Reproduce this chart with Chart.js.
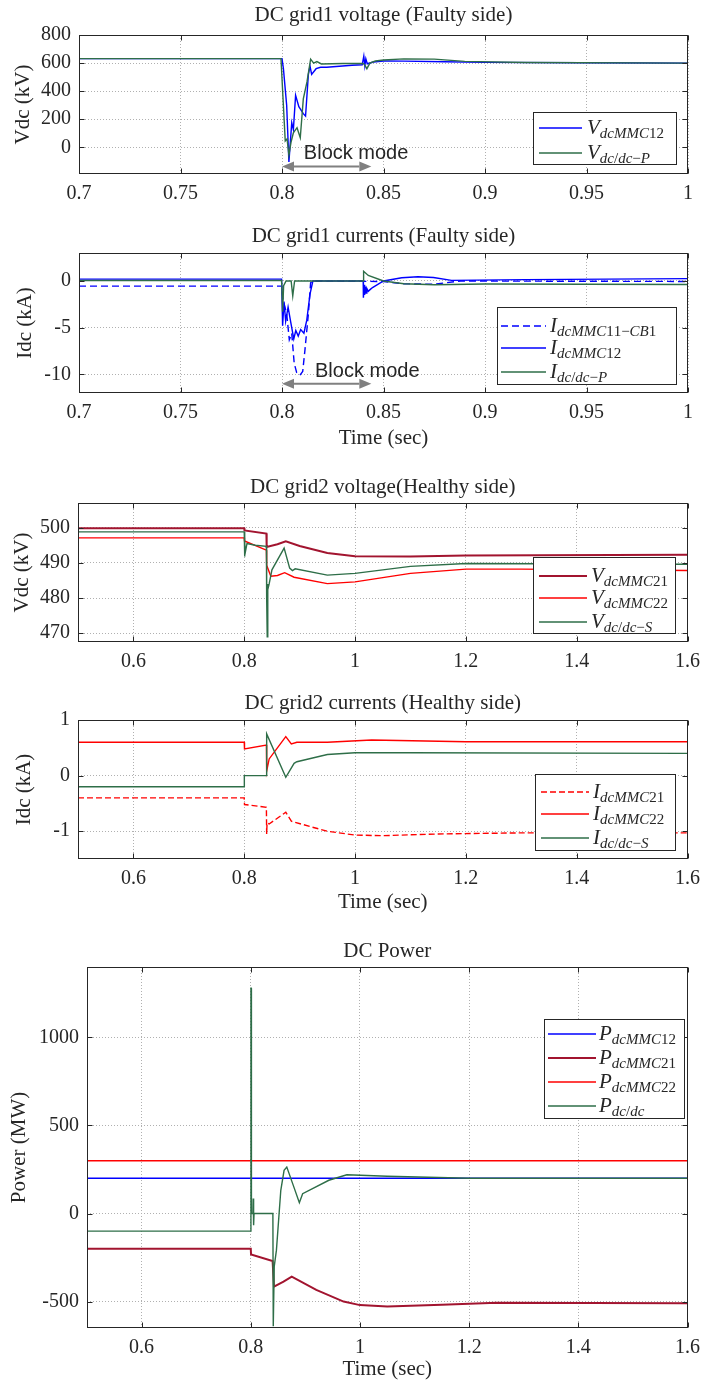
<!DOCTYPE html>
<html>
<head>
<meta charset="utf-8">
<script src="https://cdn.jsdelivr.net/npm/chart.js@4.4.0/dist/chart.umd.min.js"></script>
<style>
  body { margin: 0; background: #fff; width: 708px; height: 1382px; position: relative; overflow: hidden; }
  .panel { position: absolute; left: 0; width: 708px; }
  canvas { display: block; }
</style>
</head>
<body>
<div class="panel" style="top:0px"><canvas id="c1" width="708" height="200"></canvas></div>
<div class="panel" style="top:220px"><canvas id="c2" width="708" height="231"></canvas></div>
<div class="panel" style="top:470px"><canvas id="c3" width="708" height="198"></canvas></div>
<div class="panel" style="top:685px"><canvas id="c4" width="708" height="230"></canvas></div>
<div class="panel" style="top:930px"><canvas id="c5" width="708" height="452"></canvas></div>
<script>
// ---- data: panel 1, DC grid1 voltage (kV) ----
const xTicksA = [0.7, 0.75, 0.8, 0.85, 0.9, 0.95, 1];
const yTicks1 = [0, 200, 400, 600, 800];
const t_vMMC12 = [0.7, 0.8, 0.8007, 0.8023, 0.8034, 0.8048, 0.8056, 0.8067, 0.8083, 0.8105, 0.8116, 0.813, 0.8138, 0.8146, 0.8168, 0.819, 0.822, 0.8345, 0.8395, 0.8403, 0.8408, 0.8413, 0.842, 0.845, 0.85, 0.86, 0.88, 0.9, 0.95, 1.0];
const v_vMMC12 = [632, 632, 560, 300, -105, 176, 126, 370, 290, 240, 222, 520, 578, 520, 560, 570, 570, 585, 588, 650, 580, 630, 595, 608, 615, 614, 610, 605, 602, 600];
const t_vDCP = [0.7, 0.7995, 0.8005, 0.8016, 0.8025, 0.8034, 0.8045, 0.8056, 0.8074, 0.809, 0.8105, 0.8123, 0.8141, 0.8156, 0.8172, 0.8194, 0.83, 0.84, 0.8408, 0.8418, 0.8433, 0.846, 0.85, 0.86, 0.875, 0.89, 0.92, 1.0];
const v_vDCP = [632, 632, 350, 45, 60, -55, 40, 104, 140, 68, 345, 466, 628, 600, 611, 594, 597, 598, 585, 560, 600, 615, 622, 630, 628, 612, 604, 600];

// ---- data: panel 2, DC grid1 currents (kA) ----
const yTicks2 = [-10, -5, 0];
const t_iCB1 = [0.7, 0.7998, 0.8005, 0.8023, 0.8036, 0.8048, 0.806, 0.8072, 0.8088, 0.8102, 0.8113, 0.813, 0.8141, 0.815, 0.85, 0.86, 0.875, 0.888, 1.0];
const v_iCB1 = [-0.55, -0.55, -2.0, -3.5, -6.3, -5.6, -8.8, -9.8, -10.1, -9.7, -7.4, -3.5, -0.2, 0, -0.05, -0.3, -0.35, 0, -0.05];
const t_iMMC12 = [0.7, 0.7998, 0.8003, 0.801, 0.8018, 0.803, 0.8043, 0.8058, 0.8068, 0.808, 0.8092, 0.8108, 0.8122, 0.8138, 0.8152, 0.84, 0.8401, 0.8404, 0.8407, 0.841, 0.8414, 0.8418, 0.8425, 0.8435, 0.8446, 0.85, 0.859, 0.867, 0.8746, 0.8835, 0.92, 1.0];
const v_iMMC12 = [0.2, 0.2, -4.8, -2.2, -4.3, -2.8, -4.4, -6.2, -5.3, -5.9, -5.2, -5.6, -4.2, -1.4, 0, 0, -1.8, -0.4, -1.5, -0.6, -1.3, -0.8, -1.1, -0.9, -0.7, 0, 0.35, 0.45, 0.38, 0.07, 0.15, 0.25];
const t_iDCP = [0.7, 0.7998, 0.8003, 0.8008, 0.802, 0.8045, 0.8053, 0.8062, 0.84, 0.8402, 0.8425, 0.85, 0.86, 0.875, 0.9, 1.0];
const v_iDCP = [0.05, 0.05, -3.3, -0.5, 0, 0, -1.6, 0, 0, 1.05, 0.6, 0, -0.3, -0.4, -0.32, -0.38];

// ---- data: panel 3, DC grid2 voltage (kV) ----
const xTicksB = [0.6, 0.8, 1, 1.2, 1.4, 1.6];
const yTicks3 = [470, 480, 490, 500];
const t_vMMC21 = [0.5, 0.8, 0.8005, 0.84, 0.8405, 0.86, 0.875, 0.9, 0.95, 1.0, 1.1, 1.2, 1.6];
const v_vMMC21 = [499.8, 499.8, 499.2, 498.3, 494.5, 495.3, 496.1, 494.8, 492.8, 491.9, 491.8, 492.1, 492.3];
const t_vMMC22 = [0.5, 0.8, 0.8005, 0.84, 0.8405, 0.848, 0.86, 0.873, 0.89, 0.95, 1.0, 1.1, 1.2, 1.3, 1.6];
const v_vMMC22 = [497.1, 497.1, 496.2, 493.6, 489.3, 486.2, 486.4, 487.2, 485.9, 484.1, 484.6, 487.0, 488.2, 488.2, 487.8];
const t_vDCS = [0.5, 0.8, 0.8005, 0.8012, 0.802, 0.805, 0.82, 0.84, 0.8405, 0.8415, 0.8425, 0.843, 0.845, 0.85, 0.872, 0.882, 0.887, 0.892, 0.95, 1.0, 1.1, 1.2, 1.6];
const v_vDCS = [498.8, 498.8, 491.8, 495.8, 493.0, 495.5, 495.0, 494.7, 480, 469, 484, 482.7, 484, 488, 494.2, 488.5, 487.8, 488.3, 486.5, 487.0, 489.0, 489.8, 489.6];

// ---- data: panel 4, DC grid2 currents (kA) ----
const yTicks4 = [-1, 0, 1];
const t_iMMC21 = [0.5, 0.8, 0.8005, 0.84, 0.8405, 0.8412, 0.845, 0.875, 0.885, 0.92, 0.95, 1.0, 1.05, 1.15, 1.3, 1.6];
const v_iMMC21 = [-0.4, -0.4, -0.52, -0.57, -1.05, -0.85, -0.87, -0.66, -0.82, -0.92, -1.0, -1.07, -1.08, -1.05, -1.03, -1.03];
const t_iMMC22 = [0.5, 0.8, 0.8005, 0.84, 0.8405, 0.845, 0.875, 0.885, 0.895, 0.95, 1.03, 1.2, 1.6];
const v_iMMC22 = [0.6, 0.6, 0.48, 0.55, 0.08, 0.3, 0.7, 0.57, 0.6, 0.6, 0.64, 0.61, 0.61];
const t_iDCS = [0.5, 0.7998, 0.8002, 0.84, 0.8405, 0.875, 0.89, 0.895, 0.95, 1.0, 1.1, 1.6];
const v_iDCS = [-0.2, -0.2, 0, 0, 0.75, -0.03, 0.22, 0.25, 0.38, 0.41, 0.41, 0.4];

// ---- data: panel 5, DC power (MW) ----
const yTicks5 = [-500, 0, 500, 1000];
const t_pMMC12 = [0.5, 1.6];
const v_pMMC12 = [200, 200];
const t_pMMC21 = [0.5, 0.8, 0.8005, 0.84, 0.8425, 0.86, 0.875, 0.92, 0.97, 1.0, 1.05, 1.15, 1.25, 1.6];
const v_pMMC21 = [-200, -200, -232, -270, -415, -387, -358, -434, -500, -520, -528, -518, -506, -510];
const t_pMMC22 = [0.5, 1.6];
const v_pMMC22 = [300, 300];
const t_pDC = [0.5, 0.8, 0.8003, 0.8008, 0.8012, 0.804, 0.8045, 0.8052, 0.806, 0.8405, 0.8412, 0.843, 0.847, 0.855, 0.861, 0.866, 0.879, 0.889, 0.895, 0.943, 0.976, 1.05, 1.2, 1.6];
const v_pDC = [-100, -100, 1280, 1280, 0, 0, 85, -66, 0, 0, -640, -300, -208, 132, 245, 264, 150, 62, 113, 189, 220, 212, 200, 200];

const BLUE = '#0000ff', GREEN = '#2e6e48', MAROON = '#a2142f', RED = '#ff0000', INK = '#262626';
const SERIF = '"Liberation Serif", "Times New Roman", serif';

Chart.defaults.font.family = SERIF;
Chart.defaults.font.size = 20;
Chart.defaults.color = INK;

// MATLAB style box with inward ticks on all four sides
const boxPlugin = {
  id: 'matlabBox',
  afterDatasetsDraw(chart) {
    const { ctx, chartArea: a, scales: { x, y } } = chart;
    const L = Math.round(a.left) + 0.5, R = Math.round(a.right) - 0.5;
    const T = Math.round(a.top) + 0.5, B = Math.round(a.bottom) - 0.5;
    ctx.save();
    ctx.strokeStyle = INK;
    ctx.lineWidth = 1;
    ctx.strokeRect(L, T, R - L, B - T);
    ctx.beginPath();
    x.ticks.forEach(t => {
      const px = Math.round(x.getPixelForValue(t.value)) + 0.5;
      ctx.moveTo(px, B); ctx.lineTo(px, B - 5);
      ctx.moveTo(px, T); ctx.lineTo(px, T + 5);
    });
    y.ticks.forEach(t => {
      const py = Math.round(y.getPixelForValue(t.value)) + 0.5;
      ctx.moveTo(L, py); ctx.lineTo(L + 5, py);
      ctx.moveTo(R, py); ctx.lineTo(R - 5, py);
    });
    ctx.stroke();
    ctx.restore();
  }
};

// label like V_dcMMC12 -> italic V with subscript
function drawTexLabel(ctx, label, x, y) {
  const [main, sub] = label.split('_');
  ctx.textBaseline = 'alphabetic';
  ctx.textAlign = 'left';
  ctx.fillStyle = INK;
  ctx.font = 'italic 21px ' + SERIF;
  ctx.fillText(main, x, y + 6);
  x += ctx.measureText(main).width;
  for (const ch of sub) {
    ctx.font = (/[A-Za-z]/.test(ch) ? 'italic ' : '') + '15px ' + SERIF;
    ctx.fillText(ch, x, y + 10);
    x += ctx.measureText(ch).width;
  }
}

const texLegendPlugin = {
  id: 'texLegend',
  afterDraw(chart, args, opts) {
    if (!opts || !opts.box) return;
    const { ctx } = chart;
    const [l, t, r, b] = opts.box;
    ctx.save();
    ctx.fillStyle = '#fff';
    ctx.fillRect(l, t, r - l, b - t);
    ctx.strokeStyle = INK;
    ctx.lineWidth = 1;
    ctx.strokeRect(l + 0.5, t + 0.5, r - l, b - t);
    chart.data.datasets.forEach((ds, i) => {
      const yy = opts.rows[i];
      ctx.beginPath();
      ctx.strokeStyle = ds.borderColor;
      ctx.lineWidth = ds.borderWidth;
      ctx.setLineDash(ds.borderDash || []);
      ctx.moveTo(opts.line[0], yy);
      ctx.lineTo(opts.line[1], yy);
      ctx.stroke();
      ctx.setLineDash([]);
      drawTexLabel(ctx, ds.label, opts.textX, yy);
    });
    ctx.restore();
  }
};

// "Block mode" double arrow
const blockPlugin = {
  id: 'blockMode',
  afterDatasetsDraw(chart, args, opts) {
    if (!opts || opts.x0 === undefined) return;
    const { ctx, scales: { x, y } } = chart;
    const x0 = x.getPixelForValue(opts.x0), x1 = x.getPixelForValue(opts.x1);
    const ya = y.getPixelForValue(opts.yArrow);
    const head = 12, half = 5;
    ctx.save();
    ctx.strokeStyle = '#808080';
    ctx.fillStyle = '#808080';
    ctx.lineWidth = 2;
    ctx.beginPath();
    ctx.moveTo(x0 + head, ya); ctx.lineTo(x1 - head, ya);
    ctx.stroke();
    ctx.beginPath();
    ctx.moveTo(x0, ya); ctx.lineTo(x0 + head, ya - half); ctx.lineTo(x0 + head, ya + half); ctx.closePath();
    ctx.moveTo(x1, ya); ctx.lineTo(x1 - head, ya - half); ctx.lineTo(x1 - head, ya + half); ctx.closePath();
    ctx.fill();
    ctx.fillStyle = INK;
    ctx.font = '20px "Liberation Sans", Arial, sans-serif';
    ctx.textAlign = 'center';
    ctx.textBaseline = 'middle';
    ctx.fillText('Block mode', x.getPixelForValue(opts.textX), y.getPixelForValue(opts.textY));
    ctx.restore();
  }
};

const fmt = v => String(Number(v.toFixed(2)));

function series(label, t, v, color, width, dash) {
  return { label, t, v, color, width, dash };
}

function makeChart(id, cfg) {
  const n = cfg.series.length;
  return new Chart(document.getElementById(id).getContext('2d'), {
    type: 'line',
    data: {
      datasets: cfg.series.map((s, i) => ({
        label: s.label,
        data: s.t.map((t, k) => ({ x: t, y: s.v[k] })),
        borderColor: s.color,
        borderWidth: s.width,
        borderDash: s.dash || [],
        pointRadius: 0,
        tension: 0,
        fill: false,
        order: n - i
      }))
    },
    options: {
      responsive: false,
      animation: false,
      devicePixelRatio: 1,
      layout: { padding: { left: 0, right: 20, top: 0, bottom: 0 } },
      plugins: {
        legend: { display: false },
        tooltip: { enabled: false },
        title: {
          display: true, text: cfg.title, fullSize: false, color: INK,
          font: { size: 21, weight: 'normal', lineHeight: 1.2 },
          padding: { top: cfg.titlePad[0], bottom: cfg.titlePad[1] }
        },
        texLegend: cfg.legend,
        blockMode: cfg.block || {}
      },
      scales: {
        x: {
          type: 'linear', min: cfg.xRange[0], max: cfg.xRange[1],
          afterBuildTicks: s => { s.ticks = cfg.xTicks.map(v => ({ value: v })); },
          afterFit: s => { s.height = cfg.xH; },
          grid: { color: '#b0b0b0', lineWidth: 1, drawTicks: false },
          border: { display: false, dash: [1, 2] },
          ticks: { padding: 8, autoSkip: false, maxRotation: 0, color: INK, callback: v => fmt(v) },
          title: cfg.xTitle
            ? { display: true, text: 'Time (sec)', color: INK, font: { size: 21, lineHeight: 1.2 }, padding: { top: 0, bottom: 0 } }
            : { display: false }
        },
        y: {
          min: cfg.yRange[0], max: cfg.yRange[1],
          afterBuildTicks: s => { s.ticks = cfg.yTicks.map(v => ({ value: v })); },
          afterFit: s => { s.width = cfg.yW; },
          grid: { color: '#b0b0b0', lineWidth: 1, drawTicks: false },
          border: { display: false, dash: [1, 2] },
          ticks: { padding: 8, autoSkip: false, color: INK, callback: v => fmt(v) },
          title: { display: true, text: cfg.yTitle, color: INK, font: { size: 21, lineHeight: 1.2 }, padding: { top: cfg.yTitlePad, bottom: 0 } }
        }
      }
    },
    plugins: [boxPlugin, blockPlugin, texLegendPlugin]
  });
}

makeChart('c1', {
  title: 'DC grid1 voltage (Faulty side)', titlePad: [2.4, 7.4],
  xRange: [0.7, 1], xTicks: xTicksA, xH: 26, xTitle: false,
  yRange: [-190, 800], yTicks: yTicks1, yW: 79, yTitle: 'Vdc (kV)', yTitlePad: 11,
  series: [
    series('V_dcMMC12', t_vMMC12, v_vMMC12, BLUE, 1.4),
    series('V_dc/dc\u2212P', t_vDCP, v_vDCP, GREEN, 1.4)
  ],
  legend: { box: [533, 112, 676, 164], rows: [128, 153], line: [539, 582], textX: 587 },
  block: { x0: 0.8, x1: 0.844, yArrow: -136, textX: 0.8365, textY: -45 }
});

makeChart('c2', {
  title: 'DC grid1 currents (Faulty side)', titlePad: [3.4, 4.4],
  xRange: [0.7, 1], xTicks: xTicksA, xH: 58, xTitle: true,
  yRange: [-12, 3], yTicks: yTicks2, yW: 79, yTitle: 'Idc (kA)', yTitlePad: 13,
  series: [
    series('I_dcMMC11\u2212CB1', t_iCB1, v_iCB1, BLUE, 1.4, [7, 4]),
    series('I_dcMMC12', t_iMMC12, v_iMMC12, BLUE, 1.4),
    series('I_dc/dc\u2212P', t_iDCP, v_iDCP, GREEN, 1.4)
  ],
  legend: { box: [497, 87, 676, 164], rows: [106, 128, 152], line: [501, 546], textX: 550 },
  block: { x0: 0.8, x1: 0.844, yArrow: -11.0, textX: 0.842, textY: -9.7 }
});

makeChart('c3', {
  title: 'DC grid2 voltage(Healthy side)', titlePad: [4.4, 3.4],
  xRange: [0.5, 1.6], xTicks: xTicksB, xH: 26, xTitle: false,
  yRange: [467.5, 507], yTicks: yTicks3, yW: 78, yTitle: 'Vdc (kV)', yTitlePad: 10,
  series: [
    series('V_dcMMC21', t_vMMC21, v_vMMC21, MAROON, 2),
    series('V_dcMMC22', t_vMMC22, v_vMMC22, RED, 1.4),
    series('V_dc/dc\u2212S', t_vDCS, v_vDCS, GREEN, 1.4)
  ],
  legend: { box: [533, 87, 675, 163], rows: [106, 128, 152], line: [539, 587], textX: 591 }
});

makeChart('c4', {
  title: 'DC grid2 currents (Healthy side)', titlePad: [5.4, 4.4],
  xRange: [0.5, 1.6], xTicks: xTicksB, xH: 56, xTitle: true,
  yRange: [-1.5, 1], yTicks: yTicks4, yW: 78, yTitle: 'Idc (kA)', yTitlePad: 12,
  series: [
    series('I_dcMMC21', t_iMMC21, v_iMMC21, RED, 1.4, [6, 3]),
    series('I_dcMMC22', t_iMMC22, v_iMMC22, RED, 1.4),
    series('I_dc/dc\u2212S', t_iDCS, v_iDCS, GREEN, 1.4)
  ],
  legend: { box: [535, 89, 675, 165], rows: [107, 129, 153], line: [541, 589], textX: 593 }
});

makeChart('c5', {
  title: 'DC Power', titlePad: [8.4, 3.4],
  xRange: [0.5, 1.6], xTicks: xTicksB, xH: 54, xTitle: true,
  yRange: [-650, 1400], yTicks: yTicks5, yW: 87, yTitle: 'Power (MW)', yTitlePad: 7,
  series: [
    series('P_dcMMC12', t_pMMC12, v_pMMC12, BLUE, 1.4),
    series('P_dcMMC21', t_pMMC21, v_pMMC21, MAROON, 2),
    series('P_dcMMC22', t_pMMC22, v_pMMC22, RED, 1.4),
    series('P_dc/dc', t_pDC, v_pDC, GREEN, 1.4)
  ],
  legend: { box: [544, 89, 684, 188], rows: [104, 128, 152, 176], line: [548, 596], textX: 599 }
});
</script>
</body>
</html>
